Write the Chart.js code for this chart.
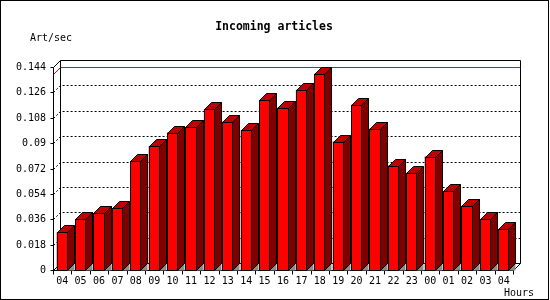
<!DOCTYPE html>
<html>
<head>
<meta charset="utf-8">
<script src="https://cdn.jsdelivr.net/npm/chart.js@4/dist/chart.umd.min.js"></script>
<style>
  html, body { margin: 0; padding: 0; background: #fff; }
  canvas { display: block; }
</style>
</head>
<body>
<canvas id="chart" width="550" height="300"></canvas>
<script>
// ---- data ----
const hours = ['04', '05', '06', '07', '08', '09', '10', '11', '12', '13', '14', '15', '16',
  '17', '18', '19', '20', '21', '22', '23', '00', '01', '02', '03', '04'];
const artPerSec = [0.0267, 0.0359, 0.0401, 0.0437, 0.0770, 0.0878, 0.0975, 0.1012, 0.1140,
  0.1053, 0.0991, 0.1204, 0.1152, 0.1279, 0.1393, 0.0911, 0.1173, 0.1003, 0.0741, 0.0689,
  0.0805, 0.0561, 0.0455, 0.0363, 0.0288];
const yTicks = [0, 0.018, 0.036, 0.054, 0.072, 0.09, 0.108, 0.126, 0.144];
const yTickLabels = ['0', '0.018', '0.036', '0.054', '0.072', '0.09', '0.108', '0.126', '0.144'];

const DEPTH = 7;
const MONO = '"DejaVu Sans Mono", "Liberation Mono", monospace';

// ---- pseudo 3d drawing ----
const threeD = {
  id: 'threeD',

  beforeDraw(chart) {
    const ctx = chart.ctx;
    ctx.save();
    ctx.fillStyle = '#fff';
    ctx.fillRect(0, 0, chart.width, chart.height);
    ctx.strokeStyle = '#000';
    ctx.lineWidth = 1;
    ctx.strokeRect(0.5, 0.5, 548, 299);
    ctx.restore();
  },

  beforeDatasetsDraw(chart) {
    const { ctx, chartArea: a, scales: { x, y } } = chart;
    const fl = Math.round(a.left) + 0.5;
    const fr = Math.round(a.right) + 0.5;
    const fb = Math.round(y.getPixelForValue(0)) + 0.5;
    const ft = Math.round(y.getPixelForValue(yTicks[yTicks.length - 1])) + 0.5;
    const bl = fl + DEPTH, br = fr + DEPTH, bb = fb - DEPTH, bt = ft - DEPTH;

    ctx.save();
    ctx.lineWidth = 1;

    // dotted grid on the back wall
    ctx.strokeStyle = '#000';
    ctx.setLineDash([2, 2]);
    yTicks.slice(1, -1).forEach((t) => {
      const yf = Math.round(y.getPixelForValue(t)) + 0.5;
      ctx.beginPath();
      ctx.moveTo(fl, yf);
      ctx.lineTo(bl, yf - DEPTH);
      ctx.lineTo(br, yf - DEPTH);
      ctx.stroke();
    });
    ctx.setLineDash([]);

    // max line
    const ym = Math.round(y.getPixelForValue(Math.max(...artPerSec))) + 0.5;
    ctx.strokeStyle = '#f00';
    ctx.beginPath();
    ctx.moveTo(fl, ym);
    ctx.lineTo(bl, ym - DEPTH);
    ctx.lineTo(br, ym - DEPTH);
    ctx.stroke();

    // frame: back wall, floor, front axis
    ctx.strokeStyle = '#000';
    ctx.beginPath();
    ctx.moveTo(bl, bb);
    ctx.lineTo(bl, bt);
    ctx.lineTo(br, bt);
    ctx.lineTo(br, bb);
    ctx.lineTo(fr, fb);
    ctx.lineTo(fl, fb);
    ctx.lineTo(fl, ft);
    ctx.lineTo(bl, bt);
    ctx.moveTo(fl, fb);
    ctx.lineTo(bl, bb);
    ctx.lineTo(br, bb);
    ctx.stroke();

    // y ticks + labels
    ctx.fillStyle = '#000';
    ctx.font = '10px ' + MONO;
    ctx.textAlign = 'right';
    ctx.textBaseline = 'middle';
    yTicks.forEach((t, i) => {
      const yf = Math.round(y.getPixelForValue(t)) + 0.5;
      ctx.beginPath();
      ctx.moveTo(fl - 3, yf);
      ctx.lineTo(fl, yf);
      ctx.stroke();
      ctx.fillText(yTickLabels[i], 46, yf);
    });

    // x ticks + labels
    const step = (a.right - a.left) / hours.length;
    ctx.textAlign = 'center';
    for (let i = 0; i <= hours.length; i++) {
      const xx = Math.round(a.left + i * step) + 0.5;
      ctx.beginPath();
      ctx.moveTo(xx, fb);
      ctx.lineTo(xx, fb + 4);
      ctx.stroke();
    }
    hours.forEach((h, i) => {
      ctx.fillText(h, x.getPixelForValue(i), 281);
    });

    ctx.textAlign = 'left';
    ctx.fillText('Art/sec', 30, 38);
    ctx.textAlign = 'right';
    ctx.fillText('Hours', 534, 293);

    ctx.textAlign = 'center';
    ctx.font = 'bold 11.5px ' + MONO;
    ctx.fillText('Incoming articles', 274, 27);
    ctx.restore();
  },

  afterDatasetsDraw(chart) {
    const ctx = chart.ctx;
    const meta = chart.getDatasetMeta(0);
    ctx.save();
    ctx.lineWidth = 1;
    ctx.strokeStyle = '#000';
    meta.data.forEach((bar) => {
      const p = bar.getProps(['x', 'y', 'base', 'width'], true);
      const l = Math.round(p.x - p.width / 2) + 0.5;
      const r = Math.round(p.x + p.width / 2) - 0.5;
      const t = Math.round(p.y) + 0.5;
      const b = Math.round(p.base) + 0.5;

      // floor shadow
      ctx.fillStyle = '#8c8c8c';
      ctx.beginPath();
      ctx.moveTo(r, b);
      ctx.lineTo(r + DEPTH, b - DEPTH);
      ctx.lineTo(r + DEPTH, b);
      ctx.closePath();
      ctx.fill();

      // side face
      ctx.fillStyle = '#800000';
      ctx.beginPath();
      ctx.moveTo(r, t);
      ctx.lineTo(r + DEPTH, t - DEPTH);
      ctx.lineTo(r + DEPTH, b - DEPTH);
      ctx.lineTo(r, b);
      ctx.closePath();
      ctx.fill();
      ctx.stroke();

      // top face
      ctx.fillStyle = '#c00000';
      ctx.beginPath();
      ctx.moveTo(l, t);
      ctx.lineTo(l + DEPTH, t - DEPTH);
      ctx.lineTo(r + DEPTH, t - DEPTH);
      ctx.lineTo(r, t);
      ctx.closePath();
      ctx.fill();
      ctx.stroke();

      // front outline
      ctx.strokeRect(l, t, r - l, b - t);
    });
    ctx.restore();
  },
};

new Chart(document.getElementById('chart'), {
  type: 'bar',
  data: {
    labels: hours,
    datasets: [{
      data: artPerSec,
      backgroundColor: '#ff0000',
      borderWidth: 0,
      barPercentage: 0.6,
      categoryPercentage: 1,
    }],
  },
  options: {
    responsive: false,
    animation: false,
    devicePixelRatio: 1,
    layout: { padding: { left: 53, right: 37, top: 67, bottom: 30 } },
    plugins: { legend: { display: false }, tooltip: { enabled: false } },
    scales: {
      x: { display: false },
      y: { display: false, min: 0, max: 0.144 },
    },
  },
  plugins: [threeD],
});
</script>
</body>
</html>
